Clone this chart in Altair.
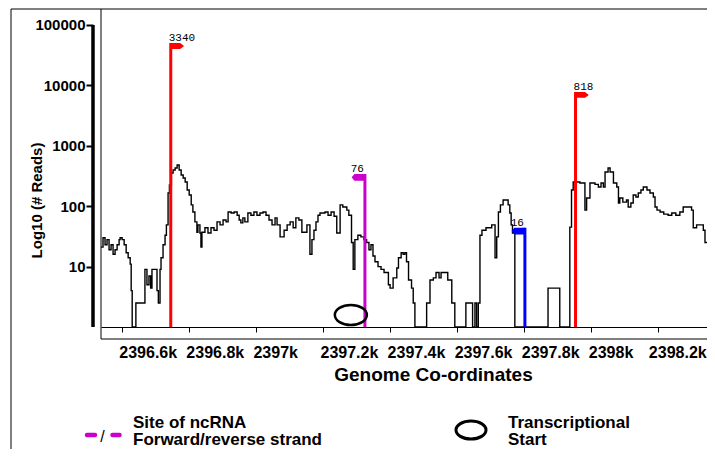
import altair as alt
import pandas as pd

# ---- coverage profile (genome coordinate, # reads) ----
cov_x = [2396538, 2396544, 2396550, 2396556, 2396562, 2396568, 2396574, 2396580, 2396586, 2396592,
         2396595, 2396601, 2396607, 2396613, 2396619, 2396625, 2396628, 2396631, 2396642, 2396669,
         2396675, 2396681, 2396686, 2396690, 2396705, 2396709, 2396714, 2396717, 2396723, 2396729,
         2396733, 2396738, 2396742, 2396748, 2396753, 2396759, 2396765, 2396771, 2396777, 2396783,
         2396789, 2396795, 2396801, 2396807, 2396812, 2396818, 2396824, 2396827, 2396833, 2396836,
         2396839, 2396848, 2396857, 2396866, 2396875, 2396884, 2396893, 2396902, 2396911, 2396917,
         2396926, 2396935, 2396944, 2396950, 2396955, 2396961, 2396967, 2396976, 2396985, 2396994,
         2397003, 2397012, 2397021, 2397030, 2397039, 2397048, 2397057, 2397063, 2397072, 2397084,
         2397093, 2397102, 2397111, 2397119, 2397128, 2397137, 2397152, 2397161, 2397167, 2397173,
         2397179, 2397185, 2397191, 2397206, 2397215, 2397224, 2397233, 2397241, 2397251, 2397259,
         2397271, 2397277, 2397285, 2397290, 2397295, 2397304, 2397313, 2397322, 2397330, 2397337,
         2397343, 2397349, 2397355, 2397364, 2397373, 2397382, 2397395, 2397400, 2397409, 2397420,
         2397425, 2397433, 2397439, 2397444, 2397449, 2397455, 2397464, 2397469, 2397474, 2397509,
         2397519, 2397529, 2397537, 2397546, 2397552, 2397572, 2397584, 2397593, 2397626, 2397646,
         2397653, 2397658, 2397663, 2397668, 2397674, 2397686, 2397703, 2397713, 2397718, 2397723,
         2397729, 2397737, 2397752, 2397757, 2397761, 2397765, 2397772, 2397871, 2397906, 2397936,
         2397941, 2397946, 2397966, 2397981, 2397986, 2397996, 2398011, 2398021, 2398029, 2398036,
         2398041, 2398050, 2398056, 2398066, 2398076, 2398081, 2398085, 2398094, 2398105, 2398110,
         2398118, 2398125, 2398133, 2398140, 2398148, 2398155, 2398166, 2398175, 2398185, 2398190,
         2398196, 2398205, 2398216, 2398229, 2398240, 2398252, 2398264, 2398274, 2398299, 2398304,
         2398314, 2398334, 2398339, 2398348, 2398357, 2398365]
cov_y = [21, 30, 23, 28, 19, 23, 16, 19, 23, 28,
         30, 28, 23, 17, 14, 11, 4, 1, 2.5, 9,
         5, 7, 4.4, 9, 4, 2.5, 9, 14, 23, 33,
         49, 165, 225, 355, 397, 429, 481, 397, 328, 293,
         252, 185, 153, 105, 80, 55, 37, 49, 36, 21,
         37, 44, 36, 44, 40, 55, 49, 59, 55, 80,
         77, 80, 71, 59, 53, 64, 55, 77, 71, 80,
         71, 77, 80, 71, 59, 49, 64, 49, 31, 40,
         49, 55, 44, 64, 59, 37, 49, 16, 28, 40,
         55, 71, 77, 80, 71, 80, 68, 36, 105, 97,
         86, 71, 25, 9, 28, 33, 31, 28, 25, 19,
         23, 15, 12, 10, 9, 8, 5, 4.4, 6.5, 9.5,
         14, 17, 16, 17, 12, 6, 4.4, 2.5, 1, 2.5,
         6, 6.5, 8, 6.5, 8, 6, 2.5, 1, 2.5, 1,
         2.5, 1, 2.5, 33, 40, 44, 49, 14, 31, 80,
         105, 127, 105, 77, 49, 36, 1, 4.4, 1, 45,
         185, 252, 242, 86, 137, 242, 230, 208, 242, 208,
         368, 429, 368, 242, 208, 113, 137, 117, 127, 97,
         113, 153, 142, 165, 185, 208, 185, 165, 142, 97,
         86, 80, 74, 71, 77, 71, 80, 97, 86, 44,
         49, 40, 25, 66, 71, 77]

# ---- ncRNA sites ----
flag_pos = [2396746, 2397325, 2397802, 2397953]
flag_top = [50300, 341, 44, 7780]
flag_label = ["3340", "76", "16", "818"]
flag_color = ["#ff0000", "#cc00cc", "#0000ff", "#ff0000"]
flag_side = ["right", "left", "left", "right"]

# ---- transcriptional start ----
tss_pos = [2397283]
tss_level = [1.58]

# ---- axes ----
x_ticks = [2396600, 2396800, 2397000, 2397200, 2397400, 2397600, 2397800, 2398000, 2398200]
y_ticks = [10, 100, 1000, 10000, 100000]
x_domain = [2396538, 2398345]
y_domain = [0.633, 184000]
y_axis_span = [1, 100000]

W, H = 606, 330
FONT = "Liberation Sans"

cov = pd.DataFrame({"pos": cov_x, "reads": cov_y})
flags = pd.DataFrame({"pos": flag_pos, "top": flag_top, "base": [1] * len(flag_pos),
                      "label": flag_label, "color": flag_color, "side": flag_side})
tss = pd.DataFrame({"pos": tss_pos, "reads": tss_level})
span = pd.DataFrame({"lo": [y_axis_span[0]], "hi": [y_axis_span[1]]})
one = pd.DataFrame({"k": [0]})

xs = alt.Scale(domain=x_domain, nice=False, zero=False)
ys = alt.Scale(type="log", domain=y_domain, nice=False)

x_axis = alt.Axis(values=x_ticks, labelExpr="format(datum.value / 1000, '.1~f') + 'k'",
                  offset=-12, domainColor="black", domainWidth=1, tickColor="black",
                  tickSize=5, tickWidth=1, grid=False, labelAlign="left",
                  labelOffset=alt.condition("datum.value == 2398200", alt.value(-10), alt.value(-3)),
                  labelBaseline="top", labelPadding=12.5, labelFont=FONT, labelFontSize=16,
                  labelFontWeight="bold", labelColor="black", labelFlush=False, labelOverlap=False,
                  title="Genome Co-ordinates", titleFont=FONT, titleFontSize=19,
                  titleFontWeight="bold", titleColor="black", titleX=332, titleY=53,
                  titleAlign="center", titleBaseline="alphabetic")
y_axis = alt.Axis(values=y_ticks, format="d", domain=False, offset=8, tickSize=7, tickWidth=2,
                  tickColor="black", grid=False, labelFont=FONT, labelFontSize=15,
                  labelFontWeight="bold", labelColor="black", labelPadding=1,
                  title="Log10 (# Reads)", titleFont=FONT, titleFontSize=15,
                  titleFontWeight="bold", titleColor="black", titleX=-57, titleY=191,
                  titleAngle=270, titleAlign="center", titleBaseline="middle")

line = alt.Chart(cov).mark_line(interpolate="step-after", color="black", strokeWidth=1.4).encode(
    x=alt.X("pos:Q", scale=xs, axis=x_axis),
    y=alt.Y("reads:Q", scale=ys, axis=y_axis),
)

y_line = alt.Chart(span).mark_rule(color="black", strokeWidth=3.5).encode(
    x=alt.value(-8), y=alt.Y("lo:Q", scale=ys), y2="hi:Q")

rules = alt.Chart(flags).mark_rule(strokeWidth=3).encode(
    x=alt.X("pos:Q", scale=xs), y=alt.Y("base:Q", scale=ys), y2="top:Q",
    color=alt.Color("color:N", scale=None))

RIGHT_FLAG = "M0,0 L1.35,0 L1.9,0.42 L1.35,0.84 L0,0.84 Z"
LEFT_FLAG = "M0,0 L-1.5,0 L-1.9,0.46 L-1.5,0.95 L0,0.95 Z"
heads = alt.Chart(flags).mark_point(filled=True, size=196, opacity=1, strokeWidth=0).encode(
    x=alt.X("pos:Q", scale=xs), y=alt.Y("top:Q", scale=ys),
    shape=alt.Shape("side:N", scale=alt.Scale(domain=["right", "left"], range=[RIGHT_FLAG, LEFT_FLAG]),
                    legend=None),
    color=alt.Color("color:N", scale=None))

lab_r = alt.Chart(flags).transform_filter(alt.datum.side == "right").mark_text(
    align="left", baseline="alphabetic", dx=-2, dy=-2, font="Liberation Mono", fontSize=11,
    color="black").encode(x=alt.X("pos:Q", scale=xs), y=alt.Y("top:Q", scale=ys), text="label:N")
lab_l = alt.Chart(flags).transform_filter(alt.datum.side == "left").mark_text(
    align="right", baseline="alphabetic", dx=-1, dy=-2, font="Liberation Mono", fontSize=11,
    color="black").encode(x=alt.X("pos:Q", scale=xs), y=alt.Y("top:Q", scale=ys), text="label:N")

ELLIPSE_PLOT = "M-1,0 A1,0.625 0 1,1 1,0 A1,0.625 0 1,1 -1,0 Z"
ELLIPSE_LEG = "M-1,0 A1,0.6 0 1,1 1,0 A1,0.6 0 1,1 -1,0 Z"
tss_mark = alt.Chart(tss).mark_point(shape=ELLIPSE_PLOT, size=1024, filled=False, color="black",
                                     strokeWidth=2.5, opacity=1).encode(
    x=alt.X("pos:Q", scale=xs), y=alt.Y("reads:Q", scale=ys))

# ---- frame ----
def hrule(x1, x2, y, w=1, color="black"):
    return alt.Chart(one).mark_rule(color=color, strokeWidth=w).encode(
        x=alt.value(x1), x2=alt.value(x2), y=alt.value(y))

def vrule(x, y1, y2, w=1, color="black"):
    return alt.Chart(one).mark_rule(color=color, strokeWidth=w).encode(
        x=alt.value(x), y=alt.value(y1), y2=alt.value(y2))

frame = [hrule(-90, W + 5, 0), vrule(0, 0, H), hrule(0, W + 5, H), vrule(-90, 0, 445)]

# ---- legend ----
def txt(s, x, y, size=17, weight="bold", align="left", baseline="alphabetic"):
    return alt.Chart(one).mark_text(text=s, font=FONT, fontSize=size, fontWeight=weight,
                                    align=align, baseline=baseline, color="black").encode(
        x=alt.value(x), y=alt.value(y))

dash1 = alt.Chart(one).mark_rule(color="#cc00cc", strokeWidth=4.5, strokeCap="round").encode(
    x=alt.value(-14), x2=alt.value(-6), y=alt.value(426))
dash2 = alt.Chart(one).mark_rule(color="#cc00cc", strokeWidth=4.5, strokeCap="round").encode(
    x=alt.value(11.5), x2=alt.value(18.5), y=alt.value(426))
slash = txt("/", 1.5, 427.5, size=16, weight="normal", align="center", baseline="middle")
leg_ell = alt.Chart(one).mark_point(shape=ELLIPSE_LEG, size=900, filled=False, color="black",
                                    strokeWidth=3, opacity=1).encode(
    x=alt.value(370), y=alt.value(421))
legend = [dash1, dash2, slash,
          txt("Site of ncRNA", 32, 418.5), txt("Forward/reverse strand", 32, 436),
          leg_ell, txt("Transcriptional", 407, 418.5), txt("Start", 407, 436)]

chart = alt.layer(line, y_line, rules, heads, lab_r, lab_l, tss_mark, *frame, *legend).properties(
    width=W, height=H,
    autosize=alt.AutoSizeParams(type="none"),
    padding={"left": 93, "top": 1, "right": 0, "bottom": 110},
).configure_view(strokeWidth=0)

chart.save("out.html", embed_options={"renderer": "svg", "actions": False})
